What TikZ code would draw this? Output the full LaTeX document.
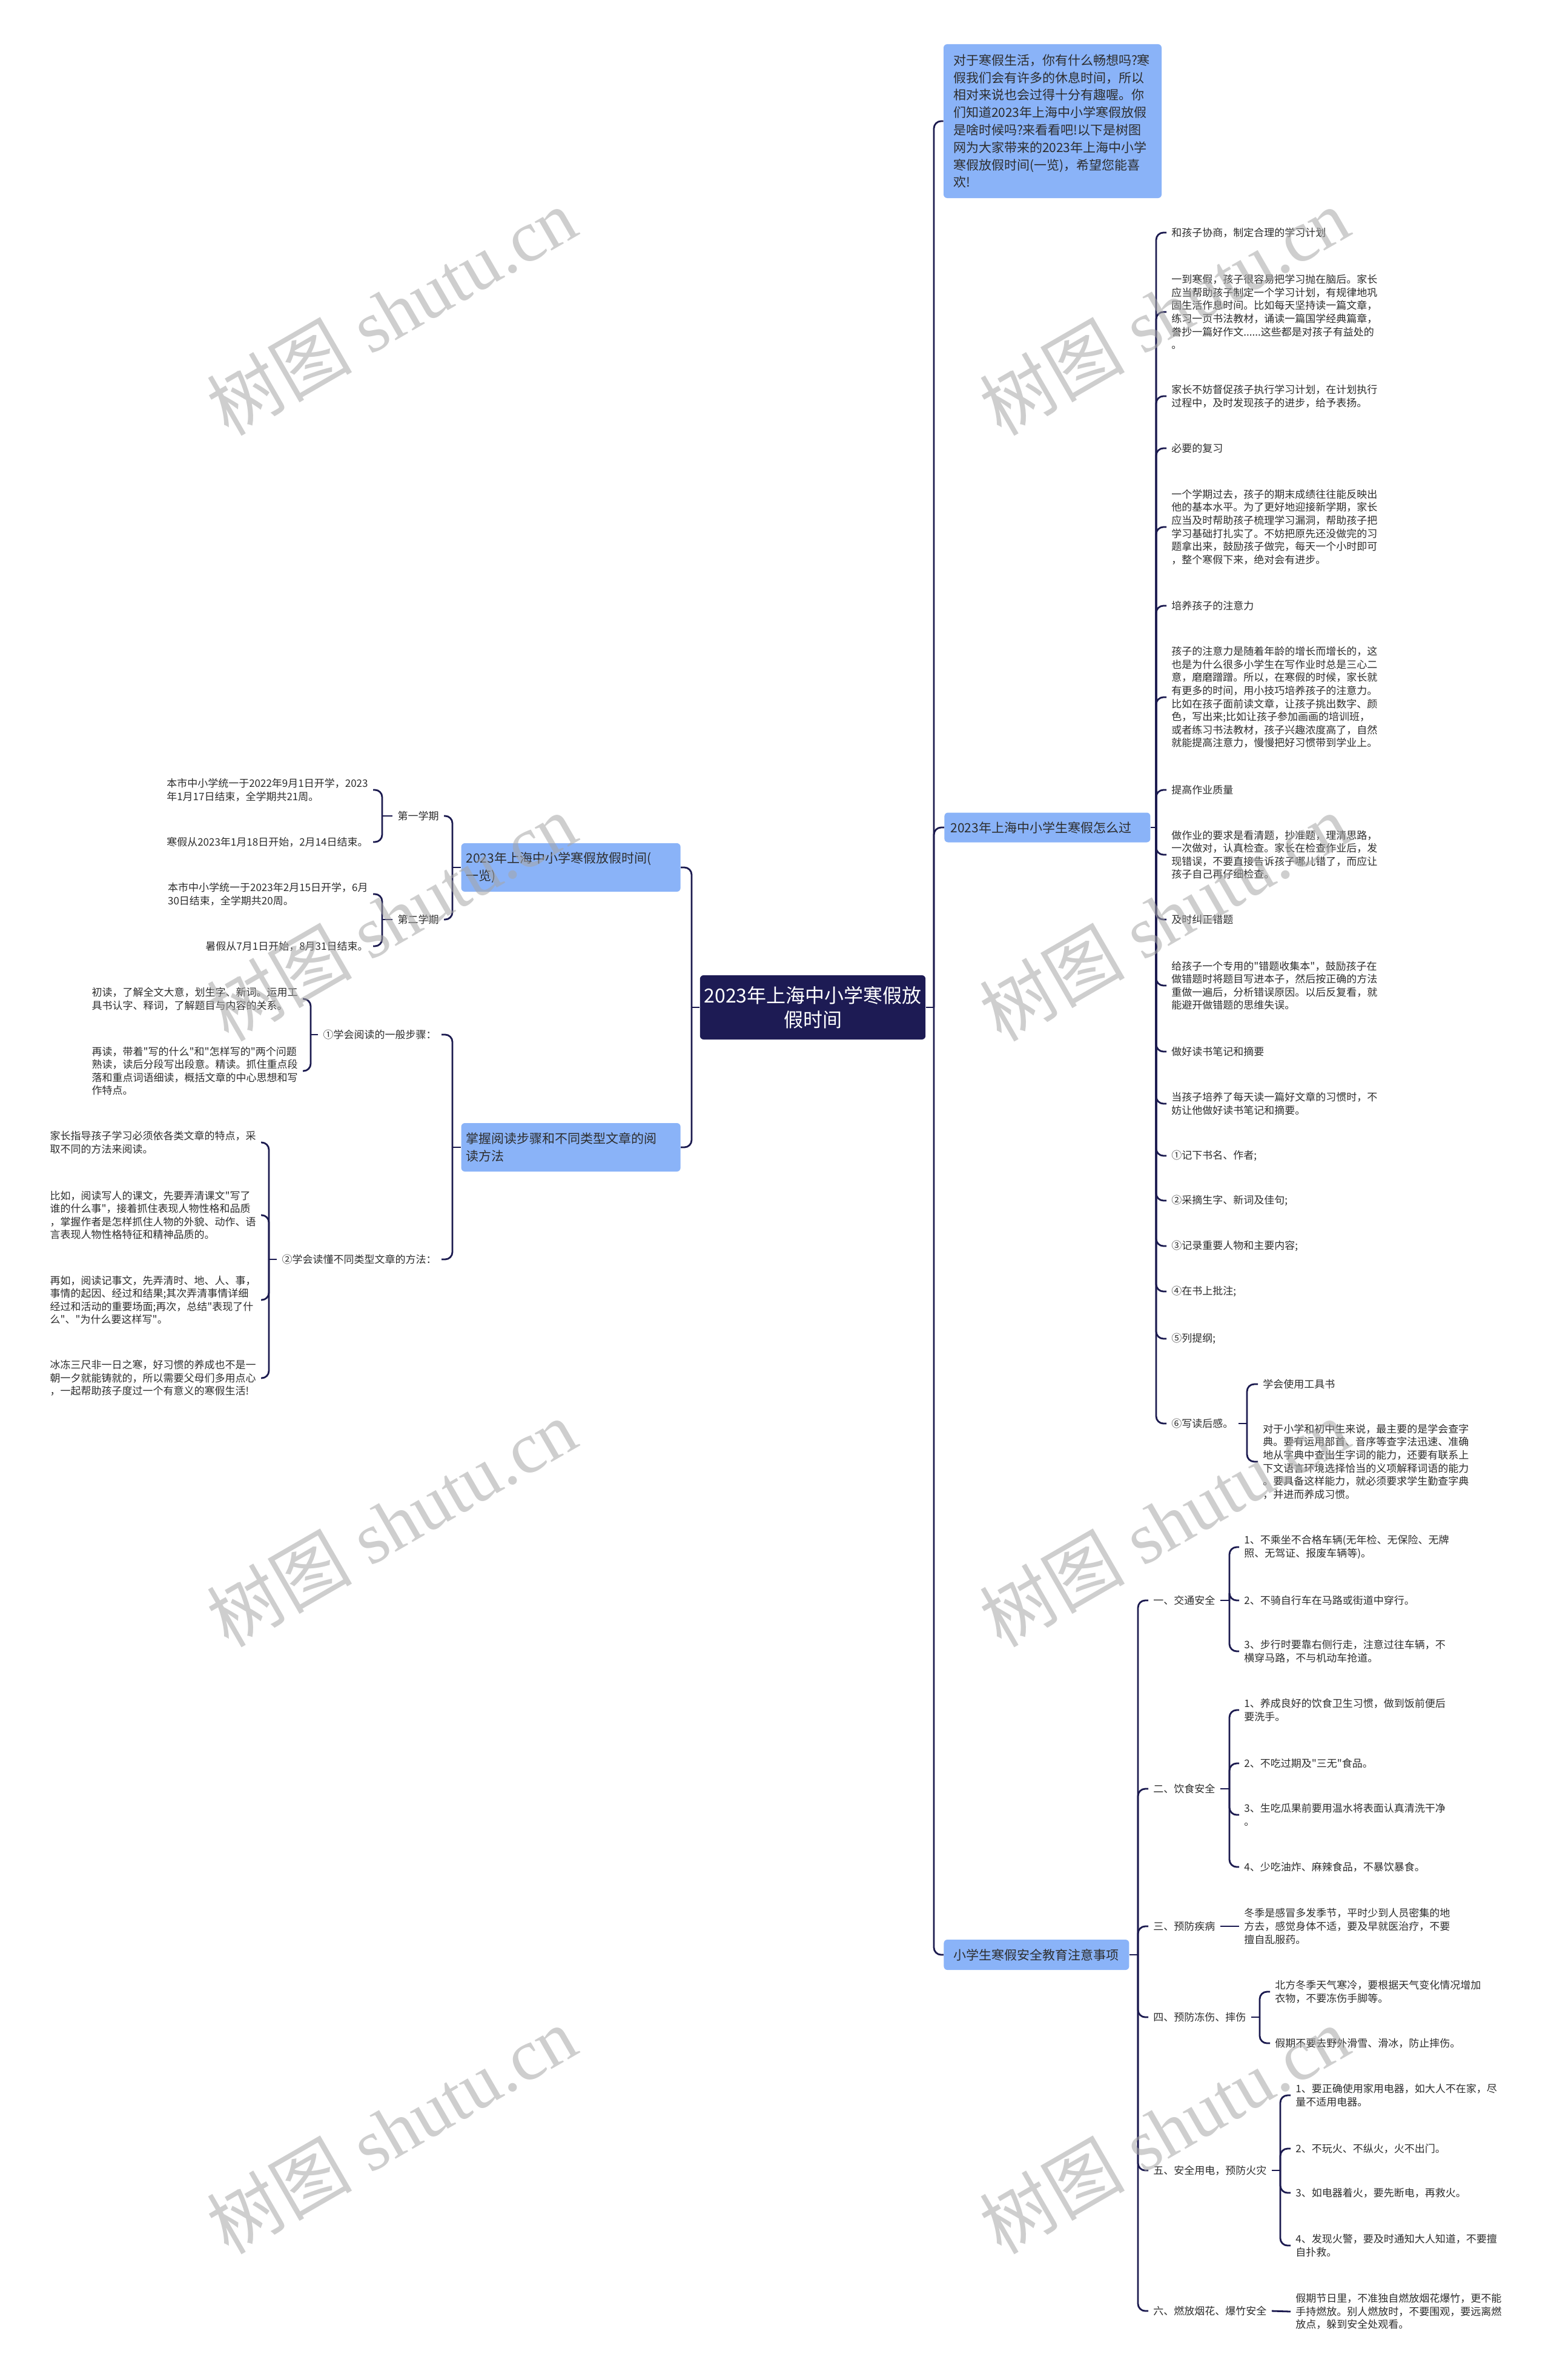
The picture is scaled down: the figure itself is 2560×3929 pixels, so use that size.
\documentclass[tikz,border=0pt]{standalone}
\usepackage{fontspec}
\setmainfont{Noto Sans CJK SC}
\newfontfamily\body{Noto Sans CJK SC}
\newfontfamily\wmlatin{Liberation Serif}
\definecolor{boxblue}{RGB}{138,179,248}
\definecolor{navy}{RGB}{27,26,79}
\definecolor{rootfill}{RGB}{29,27,84}
\definecolor{txt}{RGB}{45,45,45}
\newcommand\fs{\body\fontsize{8.5pt}{10.8pt}\selectfont}
\newcommand\lf{\body\fontsize{10.5pt}{14.4pt}\selectfont}
\newcommand\rf{\body\fontsize{16pt}{20pt}\selectfont}
\tikzset{
  conn/.style={draw=navy, line width=1.4pt, rounded corners=6pt},
  leaf/.style={font=\fs, align=left, inner xsep=4pt, inner ysep=1.5pt, text=txt},
  lw/.style={leaf, anchor=west},
  le/.style={leaf, anchor=east},
  lbox/.style={fill=boxblue, rounded corners=3pt, font=\lf, align=left, text=txt, inner ysep=4pt},
  rootnode/.style={fill=rootfill, rounded corners=3pt, font=\rf, align=center, text=white,
     minimum width=185pt, minimum height=53pt},
  wm/.style={font=\body\fontsize{60pt}{64pt}\selectfont, text=black!35, text opacity=0.55, rotate=30}
}
\begin{document}
\begin{tikzpicture}[x=0.5pt,y=-0.5pt]
\useasboundingbox[fill=white] (0,0) rectangle (2560,3929);

% root
\node[rootnode] (root) at (1342,1663) {2023年上海中小学寒假放\\假时间};

% ---------- right side level 1 ----------
\node[lbox, text width=164pt, inner xsep=8pt, minimum height=127pt, inner ysep=1pt] (top) at (1738,200)
 {对于寒假生活，你有什么畅想吗?寒\\假我们会有许多的休息时间，所以\\相对来说也会过得十分有趣喔。你\\们知道2023年上海中小学寒假放假\\是啥时候吗?来看看吧!以下是树图\\网为大家带来的2023年上海中小学\\寒假放假时间(一览)，希望您能喜\\欢!};
\node[lbox, anchor=west, text width=160pt, inner xsep=5pt, minimum height=24.5pt] (R) at (1559,1366) {2023年上海中小学生寒假怎么过};
\node[lbox, anchor=west, text width=137pt, inner xsep=8pt, minimum height=25pt] (S) at (1558,3227) {小学生寒假安全教育注意事项};

\draw[conn] (root.east) -- (1542,1663);
\draw[conn] (1542,1663) |- (top.west);
\draw[conn] (1542,1663) |- (R.west);
\draw[conn] (1542,1663) |- (S.west);

% ---------- how to spend the holiday ----------
\node[lw] (r1) at (1926,384) {和孩子协商，制定合理的学习计划};
\node[lw] (r2) at (1926,515) {一到寒假，孩子很容易把学习抛在脑后。家长\\应当帮助孩子制定一个学习计划，有规律地巩\\固生活作息时间。比如每天坚持读一篇文章，\\练习一页书法教材，诵读一篇国学经典篇章，\\誊抄一篇好作文......这些都是对孩子有益处的\\。};
\node[lw] (r3) at (1926,654) {家长不妨督促孩子执行学习计划，在计划执行\\过程中，及时发现孩子的进步，给予表扬。};
\node[lw] (r4) at (1926,740) {必要的复习};
\node[lw] (r5) at (1926,870) {一个学期过去，孩子的期末成绩往往能反映出\\他的基本水平。为了更好地迎接新学期，家长\\应当及时帮助孩子梳理学习漏洞，帮助孩子把\\学习基础打扎实了。不妨把原先还没做完的习\\题拿出来，鼓励孩子做完，每天一个小时即可\\，整个寒假下来，绝对会有进步。};
\node[lw] (r6) at (1926,1000) {培养孩子的注意力};
\node[lw] (r7) at (1926,1151) {孩子的注意力是随着年龄的增长而增长的，这\\也是为什么很多小学生在写作业时总是三心二\\意，磨磨蹭蹭。所以，在寒假的时候，家长就\\有更多的时间，用小技巧培养孩子的注意力。\\比如在孩子面前读文章，让孩子挑出数字、颜\\色，写出来;比如让孩子参加画画的培训班，\\或者练习书法教材，孩子兴趣浓度高了，自然\\就能提高注意力，慢慢把好习惯带到学业上。};
\node[lw] (r8) at (1926,1304) {提高作业质量};
\node[lw] (r9) at (1926,1411) {做作业的要求是看清题，抄准题，理清思路，\\一次做对，认真检查。家长在检查作业后，发\\现错误，不要直接告诉孩子哪儿错了，而应让\\孩子自己再仔细检查。};
\node[lw] (r10) at (1926,1518) {及时纠正错题};
\node[lw] (r11) at (1926,1627) {给孩子一个专用的"错题收集本"，鼓励孩子在\\做错题时将题目写进本子，然后按正确的方法\\重做一遍后，分析错误原因。以后反复看，就\\能避开做错题的思维失误。};
\node[lw] (r12) at (1926,1736) {做好读书笔记和摘要};
\node[lw] (r13) at (1926,1822) {当孩子培养了每天读一篇好文章的习惯时，不\\妨让他做好读书笔记和摘要。};
\node[lw] (r14) at (1926,1908) {①记下书名、作者;};
\node[lw] (r15) at (1926,1982) {②采摘生字、新词及佳句;};
\node[lw] (r16) at (1926,2057) {③记录重要人物和主要内容;};
\node[lw] (r17) at (1926,2132) {④在书上批注;};
\node[lw] (r18) at (1926,2210) {⑤列提纲;};
\node[lw] (r19) at (1926,2350) {⑥写读后感。};
\node[lw] (r19a) at (2077,2285) {学会使用工具书};
\node[lw] (r19b) at (2077,2413) {对于小学和初中生来说，最主要的是学会查字\\典。要有运用部首、音序等查字法迅速、准确\\地从字典中查出生字词的能力，还要有联系上\\下文语言环境选择恰当的义项解释词语的能力\\。要具备这样能力，就必须要求学生勤查字典\\，并进而养成习惯。};

\coordinate (rs) at (1909,1366);
\draw[conn] (R.east) -- (rs);
\foreach \c in {r1,r2,r3,r4,r5,r6,r7,r8,r9,r10,r11,r12,r13,r14,r15,r16,r17,r18,r19}
  \draw[conn] (rs) |- (\c.west);
\coordinate (r19s) at (2059,2350);
\draw[conn] (r19.east) -- (r19s);
\draw[conn] (r19s) |- (r19a.west);
\draw[conn] (r19s) |- (r19b.west);

% ---------- safety ----------
\node[lw] (s1) at (1896,2642) {一、交通安全};
\node[lw] (s2) at (1896,2953) {二、饮食安全};
\node[lw] (s3) at (1896,3180) {三、预防疾病};
\node[lw] (s4) at (1896,3330) {四、预防冻伤、摔伤};
\node[lw] (s5) at (1896,3583) {五、安全用电，预防火灾};
\node[lw] (s6) at (1896,3815) {六、燃放烟花、爆竹安全};

\coordinate (ss) at (1879,3227);
\draw[conn] (S.east) -- (ss);
\foreach \c in {s1,s2,s3,s4,s5,s6}
  \draw[conn] (ss) |- (\c.west);

\node[lw] (s1a) at (2046,2554) {1、不乘坐不合格车辆(无年检、无保险、无牌\\照、无驾证、报废车辆等)。};
\node[lw] (s1b) at (2046,2642) {2、不骑自行车在马路或街道中穿行。};
\node[lw] (s1c) at (2046,2726) {3、步行时要靠右侧行走，注意过往车辆，不\\横穿马路，不与机动车抢道。};
\coordinate (s1s) at (2030,2642);
\draw[conn] (s1.east) -- (s1s);
\foreach \c in {s1a,s1b,s1c} \draw[conn] (s1s) |- (\c.west);

\node[lw] (s2a) at (2046,2823) {1、养成良好的饮食卫生习惯，做到饭前便后\\要洗手。};
\node[lw] (s2b) at (2046,2911) {2、不吃过期及"三无"食品。};
\node[lw] (s2c) at (2046,2996) {3、生吃瓜果前要用温水将表面认真清洗干净\\。};
\node[lw] (s2d) at (2046,3082) {4、少吃油炸、麻辣食品，不暴饮暴食。};
\coordinate (s2s) at (2030,2953);
\draw[conn] (s2.east) -- (s2s);
\foreach \c in {s2a,s2b,s2c,s2d} \draw[conn] (s2s) |- (\c.west);

\node[lw] (s3a) at (2046,3180) {冬季是感冒多发季节，平时少到人员密集的地\\方去，感觉身体不适，要及早就医治疗，不要\\擅自乱服药。};
\draw[conn] (s3.east) -- (s3a.west);

\node[lw] (s4a) at (2097,3288) {北方冬季天气寒冷，要根据天气变化情况增加\\衣物，不要冻伤手脚等。};
\node[lw] (s4b) at (2097,3373) {假期不要去野外滑雪、滑冰，防止摔伤。};
\coordinate (s4s) at (2080,3330);
\draw[conn] (s4.east) -- (s4s);
\foreach \c in {s4a,s4b} \draw[conn] (s4s) |- (\c.west);

\node[lw] (s5a) at (2131,3459) {1、要正确使用家用电器，如大人不在家，尽\\量不适用电器。};
\node[lw] (s5b) at (2131,3547) {2、不玩火、不纵火，火不出门。};
\node[lw] (s5c) at (2131,3620) {3、如电器着火，要先断电，再救火。};
\node[lw] (s5d) at (2131,3707) {4、发现火警，要及时通知大人知道，不要擅\\自扑救。};
\coordinate (s5s) at (2114,3583);
\draw[conn] (s5.east) -- (s5s);
\foreach \c in {s5a,s5b,s5c,s5d} \draw[conn] (s5s) |- (\c.west);

\node[lw] (s6a) at (2131,3816) {假期节日里，不准独自燃放烟花爆竹，更不能\\手持燃放。别人燃放时，不要围观，要远离燃\\放点，躲到安全处观看。};
\draw[conn] (s6.east) -- (s6a.west);

% ---------- left side ----------
\node[lbox, anchor=east, text width=173pt, inner xsep=4pt, minimum height=40pt] (L1) at (1124,1432) {2023年上海中小学寒假放假时间(\\一览)};
\node[lbox, anchor=east, text width=173pt, inner xsep=4pt, minimum height=40pt] (L2) at (1124,1894) {掌握阅读步骤和不同类型文章的阅\\读方法};
\draw[conn] (root.west) -- (1142,1663);
\draw[conn] (1142,1663) |- (L1.east);
\draw[conn] (1142,1663) |- (L2.east);

\node[le] (L1a) at (733,1347) {第一学期};
\node[le] (L1b) at (733,1518) {第二学期};
\coordinate (l1s) at (747,1432);
\draw[conn] (L1.west) -- (l1s);
\foreach \c in {L1a,L1b} \draw[conn] (l1s) |- (\c.east);

\node[le] (L1a1) at (616,1304) {本市中小学统一于2022年9月1日开学，2023\\年1月17日结束，全学期共21周。};
\node[le] (L1a2) at (616,1390) {寒假从2023年1月18日开始，2月14日结束。};
\coordinate (l1as) at (631,1347);
\draw[conn] (L1a.west) -- (l1as);
\foreach \c in {L1a1,L1a2} \draw[conn] (l1as) |- (\c.east);

\node[le] (L1b1) at (616,1476) {本市中小学统一于2023年2月15日开学，6月\\30日结束，全学期共20周。};
\node[le] (L1b2) at (616,1562) {暑假从7月1日开始，8月31日结束。};
\coordinate (l1bs) at (631,1518);
\draw[conn] (L1b.west) -- (l1bs);
\foreach \c in {L1b1,L1b2} \draw[conn] (l1bs) |- (\c.east);

\node[le] (L2a) at (729,1708) {①学会阅读的一般步骤：};
\node[le] (L2b) at (729,2079) {②学会读懂不同类型文章的方法：};
\coordinate (l2s) at (747,1894);
\draw[conn] (L2.west) -- (l2s);
\foreach \c in {L2a,L2b} \draw[conn] (l2s) |- (\c.east);

\node[le] (L2a1) at (500,1649) {初读，了解全文大意，划生字、新词。运用工\\具书认字、释词，了解题目与内容的关系。};
\node[le] (L2a2) at (500,1768) {再读，带着"写的什么"和"怎样写的"两个问题\\熟读，读后分段写出段意。精读。抓住重点段\\落和重点词语细读，概括文章的中心思想和写\\作特点。};
\coordinate (l2as) at (513,1708);
\draw[conn] (L2a.west) -- (l2as);
\foreach \c in {L2a1,L2a2} \draw[conn] (l2as) |- (\c.east);

\node[le] (L2b1) at (431,1886) {家长指导孩子学习必须依各类文章的特点，采\\取不同的方法来阅读。};
\node[le] (L2b2) at (431,2006) {比如，阅读写人的课文，先要弄清课文"写了\\谁的什么事"，接着抓住表现人物性格和品质\\，掌握作者是怎样抓住人物的外貌、动作、语\\言表现人物性格特征和精神品质的。};
\node[le] (L2b3) at (431,2146) {再如，阅读记事文，先弄清时、地、人、事，\\事情的起因、经过和结果;其次弄清事情详细\\经过和活动的重要场面;再次，总结"表现了什\\么"、"为什么要这样写"。};
\node[le] (L2b4) at (431,2275) {冰冻三尺非一日之寒，好习惯的养成也不是一\\朝一夕就能铸就的，所以需要父母们多用点心\\，一起帮助孩子度过一个有意义的寒假生活!};
\coordinate (l2bs) at (444,2079);
\draw[conn] (L2b.west) -- (l2bs);
\foreach \c in {L2b1,L2b2,L2b3,L2b4} \draw[conn] (l2bs) |- (\c.east);

% ---------- watermarks ----------
\foreach \wy in {514,1514,2514,3516} {
  \node[wm] at (646,\wy) {树图\hspace{0.25em}{\wmlatin shutu.cn}};
  \node[wm] at (1922,\wy) {树图\hspace{0.25em}{\wmlatin shutu.cn}};
}
\end{tikzpicture}
\end{document}
